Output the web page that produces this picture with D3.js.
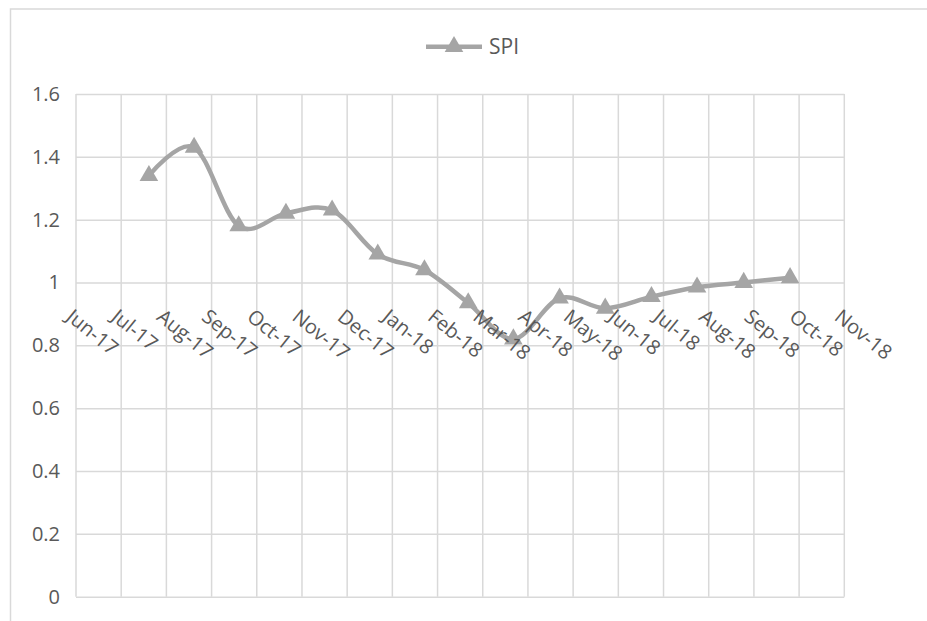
<!DOCTYPE html>
<html>
<head>
<meta charset="utf-8">
<script src="https://cdn.jsdelivr.net/npm/d3@7"></script>
<style>
  html, body { margin: 0; padding: 0; background: #fff; }
  svg { display: block; }
  text { font-family: "Open Sans", "Liberation Sans", sans-serif; fill: #595959; }
</style>
</head>
<body>
<svg id="chart" width="927" height="621"></svg>
<script>
// Month categories along the horizontal axis
const monthLabels = ["Jun-17", "Jul-17", "Aug-17", "Sep-17", "Oct-17", "Nov-17",
  "Dec-17", "Jan-18", "Feb-18", "Mar-18", "Apr-18", "May-18", "Jun-18", "Jul-18",
  "Aug-18", "Sep-18", "Oct-18", "Nov-18"];

// Reporting dates of each SPI reading
const spiDates = ["2017-07-20", "2017-08-20", "2017-09-19", "2017-10-21", "2017-11-21",
  "2017-12-22", "2018-01-23", "2018-02-20", "2018-03-22", "2018-04-22", "2018-05-23",
  "2018-06-23", "2018-07-24", "2018-08-25", "2018-09-25"];

// Schedule Performance Index values
const spiValues = [1.34, 1.43, 1.18, 1.22, 1.23, 1.09, 1.04, 0.935, 0.82, 0.95,
  0.918, 0.955, 0.985, 1.0, 1.015];

// Value axis ticks
const yTicks = [0, 0.2, 0.4, 0.6, 0.8, 1, 1.2, 1.4, 1.6];
const seriesName = "SPI";
const axisCross = 0.9;

const svg = d3.select("#chart");
const plot = { left: 76, right: 844.3, top: 94, bottom: 596.7 };
const gridColor = "#d9d9d9";
const seriesColor = "#a5a5a5";
const textColor = "#595959";

// Continuous month position: index of month from Jun-17 plus day fraction
const start = new Date(2017, 5, 1);
function monthPos(str) {
  const [yy, mm, dd] = str.split("-").map(Number);
  const idx = (yy - start.getFullYear()) * 12 + (mm - 1) - start.getMonth();
  const days = new Date(yy, mm, 0).getDate();
  return idx + (dd - 1) / days;
}
const data = spiDates.map((d, i) => ({ pos: monthPos(d), value: spiValues[i] }));

const x = d3.scaleLinear().domain([0, monthLabels.length - 1]).range([plot.left, plot.right]);
const y = d3.scaleLinear().domain([0, 1.6]).range([plot.bottom, plot.top]);

// Chart area border
svg.append("rect")
  .attr("x", 10.5).attr("y", 9).attr("width", 1000).attr("height", 700)
  .attr("fill", "none").attr("stroke", gridColor).attr("stroke-width", 1.5);

// Horizontal gridlines and value labels
const yAxis = svg.append("g")
  .attr("transform", `translate(${plot.left},0)`)
  .call(d3.axisLeft(y).tickValues(yTicks).tickSize(-(plot.right - plot.left))
    .tickPadding(16).tickFormat(d3.format("~g")));
yAxis.select(".domain").remove();
yAxis.selectAll(".tick line").attr("stroke", gridColor).attr("stroke-width", 1.5);
yAxis.selectAll(".tick text").attr("font-size", 20)
  .style("font-family", '"Open Sans", sans-serif').attr("fill", textColor);

// Vertical gridlines at each month boundary
svg.append("g").selectAll("line")
  .data(monthLabels.map((m, i) => i))
  .join("line")
  .attr("x1", d => x(d)).attr("x2", d => x(d))
  .attr("y1", plot.top).attr("y2", plot.bottom)
  .attr("stroke", gridColor).attr("stroke-width", 1.5);

// Smoothed SPI line
const line = d3.line()
  .x(d => x(d.pos)).y(d => y(d.value))
  .curve(d3.curveCatmullRom.alpha(0));
svg.append("path")
  .datum(data)
  .attr("d", line)
  .attr("fill", "none")
  .attr("stroke", seriesColor)
  .attr("stroke-width", 4.5)
  .attr("stroke-linecap", "round")
  .attr("stroke-linejoin", "round");

// Triangle markers
const tri = d3.symbol().type(d3.symbolTriangle).size(150);
svg.append("g").selectAll("path")
  .data(data)
  .join("path")
  .attr("d", tri)
  .attr("transform", d => `translate(${x(d.pos)},${y(d.value)})`)
  .attr("fill", seriesColor);

// Rotated month labels along the axis that crosses at 0.9
const labelY = y(axisCross) + 5;
svg.append("g").selectAll("text")
  .data(monthLabels)
  .join("text")
  .attr("transform", (d, i) => `translate(${x(i) - 11},${labelY}) rotate(39)`)
  .attr("text-anchor", "start")
  .attr("font-size", 20)
  .attr("fill", textColor)
  .text(d => d);

// Legend
const legend = svg.append("g").attr("transform", "translate(426,46.7)");
legend.append("line")
  .attr("x1", 0).attr("x2", 56).attr("y1", 0).attr("y2", 0)
  .attr("stroke", seriesColor).attr("stroke-width", 4.5);
legend.append("path")
  .attr("d", tri)
  .attr("transform", "translate(28,0)")
  .attr("fill", seriesColor);
legend.append("text")
  .attr("x", 63).attr("y", 0).attr("dy", "0.35em")
  .attr("font-size", 21)
  .attr("fill", textColor)
  .text(seriesName);
</script>
</body>
</html>
